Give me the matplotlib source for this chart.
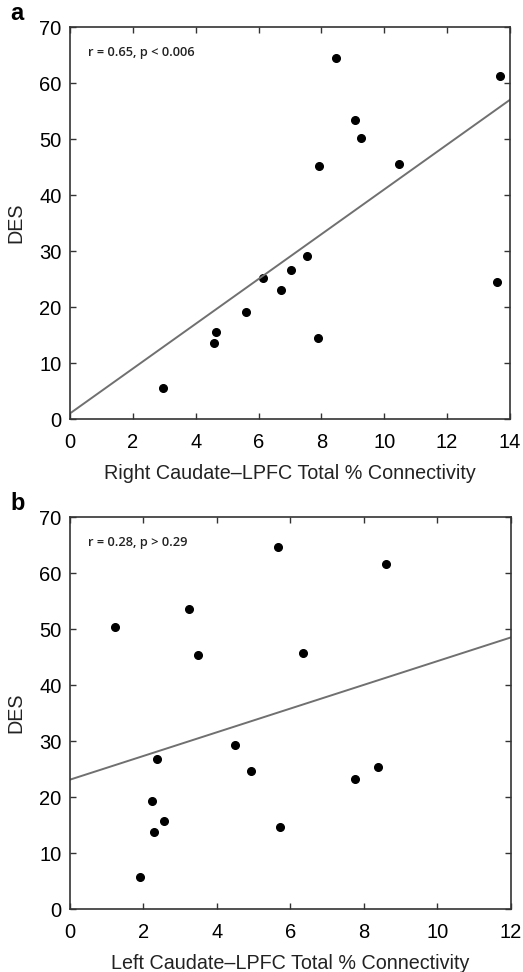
import matplotlib
matplotlib.use("Agg")
import matplotlib.pyplot as plt
import numpy as np

plt.rcParams['font.family'] = ['Liberation Sans', 'DejaVu Sans']

# panel a: right caudate-LPFC connectivity vs DES
right_conn = [8.46, 13.70, 9.07, 9.26, 7.93, 10.46, 7.55, 7.02, 6.13, 6.70,
              13.60, 5.59, 4.66, 4.57, 7.90, 2.96]
right_des = [64.5, 61.3, 53.4, 50.2, 45.2, 45.5, 29.1, 26.6, 25.2, 23.0,
             24.5, 19.1, 15.5, 13.6, 14.4, 5.5]
right_fit = [1.0, 57.0]   # line value at x=0 and x=14

# panel b: left caudate-LPFC connectivity vs DES
left_conn = [5.67, 8.60, 3.23, 1.23, 3.49, 6.35, 4.50, 2.36, 4.93, 8.38,
             7.76, 2.24, 2.56, 2.29, 5.71, 1.90]
left_des = [64.7, 61.6, 53.6, 50.4, 45.4, 45.8, 29.3, 26.8, 24.7, 25.4,
            23.2, 19.3, 15.8, 13.8, 14.6, 5.8]
left_fit = [23.1, 48.5]   # line value at x=0 and x=12

fig = plt.figure(figsize=(5.23, 9.72), dpi=100)
ax1 = fig.add_axes([0.1338, 0.5689, 0.8412, 0.4033])
ax2 = fig.add_axes([0.1338, 0.0648, 0.8431, 0.4033])


def style(ax, xmax, xlabel, stat, letter):
    ax.set_xlim(0, xmax)
    ax.set_ylim(0, 70)
    ax.set_xticks(np.arange(0, xmax + 1, 2))
    ax.set_yticks(np.arange(0, 71, 10))
    ax.tick_params(direction='in', top=True, right=True, length=4,
                   width=1, labelsize=14.5, color='#333333')
    ax.tick_params(axis='x', pad=10)
    ax.tick_params(axis='y', pad=6)
    for s in ax.spines.values():
        s.set_linewidth(1.2)
        s.set_color('#333333')
    ax.set_xlabel(xlabel, fontsize=14.2, labelpad=9, color='#222222')
    ax.set_ylabel('DES', fontsize=14.2, labelpad=10, color='#222222')
    ax.text(0.04, 0.935, stat, transform=ax.transAxes, fontsize=9.3,
            family=['Open Sans', 'DejaVu Sans'], fontweight='semibold',
            va='center', color='#222222')
    ax.text(-0.135, 1.005, letter, transform=ax.transAxes, fontsize=17,
            fontweight='bold', va='bottom', ha='left')


ax1.plot(right_conn, right_des, 'o', color='black', markersize=5.5)
ax1.plot([0, 14], right_fit, color='#707070', linewidth=1.4)
style(ax1, 14, 'Right Caudate\u2013LPFC Total % Connectivity',
      'r = 0.65, p < 0.006', 'a')

ax2.plot(left_conn, left_des, 'o', color='black', markersize=5.5)
ax2.plot([0, 12], left_fit, color='#707070', linewidth=1.4)
style(ax2, 12, 'Left Caudate\u2013LPFC Total % Connectivity',
      'r = 0.28, p > 0.29', 'b')

fig.savefig('out.png', dpi=100)
